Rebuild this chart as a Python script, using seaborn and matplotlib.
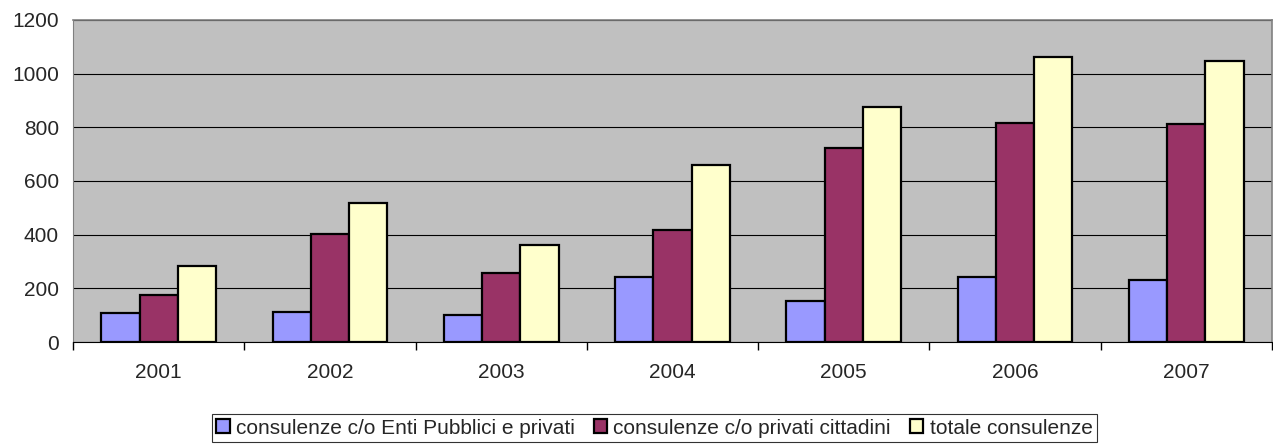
import pandas as pd
import matplotlib.pyplot as plt
import seaborn as sns
from matplotlib.ticker import FixedLocator

# dati
anni = ['2001', '2002', '2003', '2004', '2005', '2006', '2007']
enti_pubblici = [108, 110, 102, 241, 153, 242, 232]
privati_cittadini = [174, 403, 259, 417, 723, 818, 813]
totale = [283, 519, 360, 658, 877, 1061, 1046]
serie = ['consulenze c/o Enti Pubblici e privati',
         'consulenze c/o privati cittadini',
         'totale consulenze']

df = pd.DataFrame({
    'anno': anni * 3,
    'valore': enti_pubblici + privati_cittadini + totale,
    'serie': [serie[0]] * 7 + [serie[1]] * 7 + [serie[2]] * 7,
})

sns.set_style('white')
plt.rcParams['font.family'] = ['Liberation Sans', 'DejaVu Sans']

fig = plt.figure(figsize=(12.73, 4.45), dpi=100)
ax = fig.add_axes([73 / 1273, 1 - 342 / 445, 1199 / 1273, 322 / 445])
ax.set_facecolor('#C0C0C0')

sns.barplot(
    data=df, x='anno', y='valore', hue='serie', hue_order=serie,
    palette=['#9999FF', '#993366', '#FFFFCC'],
    width=0.67, edgecolor='black', linewidth=1.6, saturation=1,
    ax=ax, legend=True
)

ax.set_ylim(0, 1200)
ax.set_xlim(-0.5, 6.5)
ax.set_yticks(range(0, 1201, 200))
ax.yaxis.grid(True, color='black', linewidth=0.8)
ax.set_axisbelow(True)
ax.set_xlabel('')
ax.set_ylabel('')

for s in ['top', 'right']:
    ax.spines[s].set_color('#808080')
    ax.spines[s].set_linewidth(1.2)
ax.spines['left'].set_color('#808080')
ax.spines['bottom'].set_color('black')

ax.tick_params(axis='y', length=6, width=1, color='black', labelsize=15, pad=4)
ax.tick_params(axis='x', which='major', length=0, labelsize=15, pad=15)
ax.xaxis.set_minor_locator(FixedLocator([i - 0.5 for i in range(8)]))
ax.tick_params(axis='x', which='minor', length=6, width=1, color='black', bottom=True)

handles, labels = ax.get_legend_handles_labels()
ax.get_legend().remove()
leg = fig.legend(handles, labels, loc='center', bbox_to_anchor=(0.514, 1 - 428 / 445),
                 ncol=3, fontsize=15, frameon=True, fancybox=False,
                 handlelength=0.65, handleheight=0.65, handletextpad=0.3,
                 columnspacing=0.9, borderpad=0.2, borderaxespad=0)
leg.get_frame().set_edgecolor('black')
leg.get_frame().set_linewidth(0.8)

plt.savefig('out.png', dpi=100)
